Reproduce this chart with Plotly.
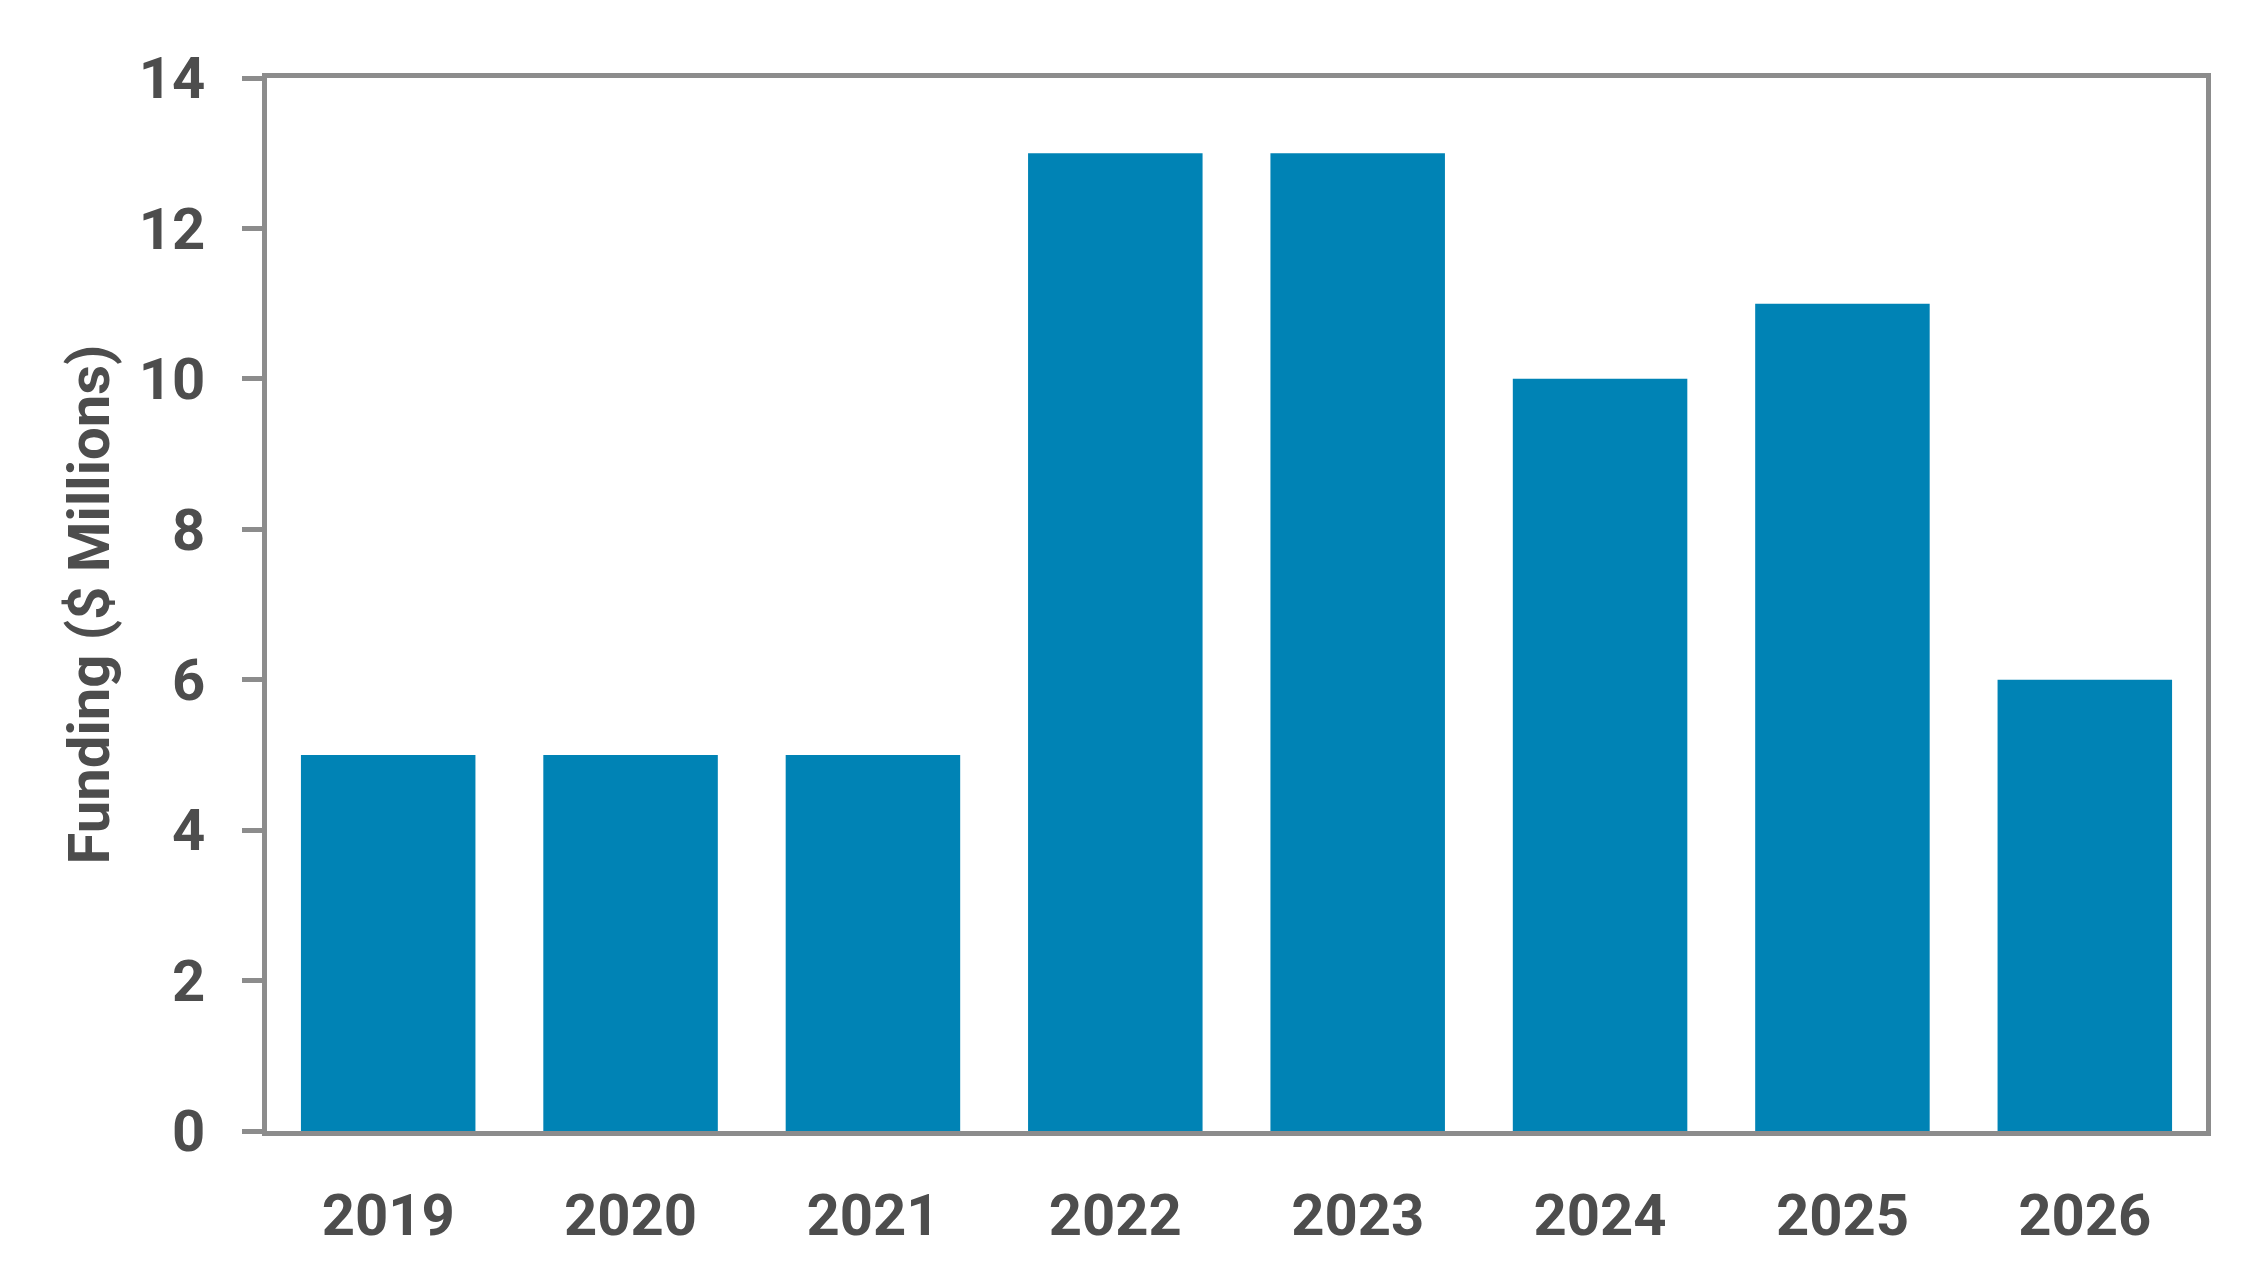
import plotly.graph_objects as go

# Data
years = ["2019", "2020", "2021", "2022", "2023", "2024", "2025", "2026"]
funding = [5, 5, 5, 13, 13, 10, 11, 6]
y_ticks = [0, 2, 4, 6, 8, 10, 12, 14]

BAR_COLOR = "#0083b5"
AXIS_COLOR = "#8c8c8c"
TEXT_COLOR = "#4d4d4d"
FONT = dict(family="Roboto", size=58, color=TEXT_COLOR, weight="bold")

fig = go.Figure(
    go.Bar(x=years, y=funding, marker=dict(color=BAR_COLOR, line=dict(width=0)))
)

fig.update_layout(
    width=2255,
    height=1286,
    margin=dict(l=259, r=57, t=70, b=163),
    paper_bgcolor="white",
    plot_bgcolor="white",
    bargap=0.28,
    showlegend=False,
    font=FONT,
)

fig.update_xaxes(
    showline=True, linecolor=AXIS_COLOR, linewidth=5, mirror=True,
    showgrid=False, ticks="", tickfont=FONT, ticklabelstandoff=29,
)
fig.update_yaxes(
    range=[0, 14], tickvals=y_ticks, showgrid=False, zeroline=False,
    showline=True, linecolor=AXIS_COLOR, linewidth=5, mirror=True,
    ticks="outside", ticklen=20, tickwidth=5, tickcolor=AXIS_COLOR,
    tickfont=FONT, ticklabelstandoff=25,
    title=dict(text="Funding ($ Millions)", font=FONT, standoff=12),
    automargin=False,
)

fig.write_html("out.html")
